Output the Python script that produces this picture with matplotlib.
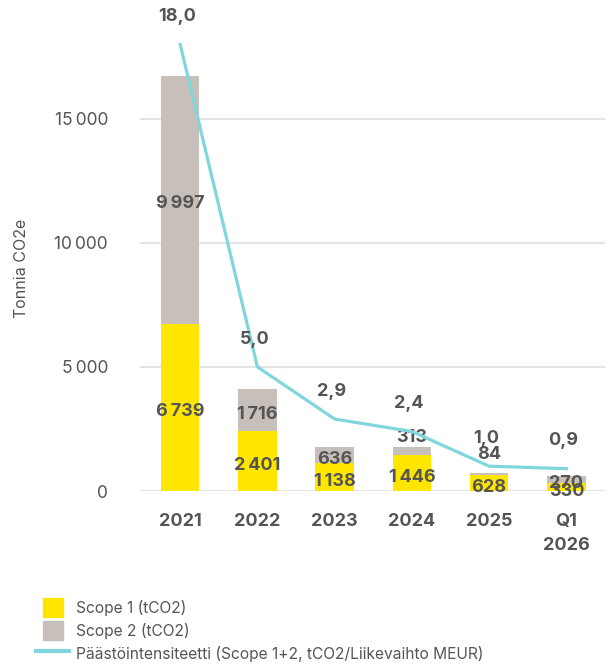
import matplotlib
matplotlib.use("Agg")
import matplotlib.pyplot as plt
from matplotlib.patches import Rectangle
from matplotlib.legend_handler import HandlerPatch
from matplotlib.lines import Line2D

# data
kaudet = ['2021', '2022', '2023', '2024', '2025', 'Q1\n2026']
scope1 = [6739, 2401, 1138, 1446, 628, 330]
scope2 = [9997, 1716, 636, 313, 84, 270]
intensiteetti = [18.0, 5.0, 2.9, 2.4, 1.0, 0.9]
yticks = [0, 5000, 10000, 15000]

plt.rcParams['font.family'] = ['Inter', 'DejaVu Sans']
keltainen = '#FFE600'
harmaa = '#C7C0BA'
turkoosi = '#80D6DC'
teksti = '#555555'

def muoto(v):
    # tuhaterotin välilyönnillä
    return f'{v:,}'.replace(',', '\u2009')

fig = plt.figure(figsize=(6.09, 6.69), dpi=100)
ax = fig.add_axes([140/609, 1-491/669, 465/609, 459/669])

x = list(range(len(kaudet)))
ax.bar(x, scope1, width=0.5, color=keltainen, zorder=2)
ax.bar(x, scope2, width=0.5, bottom=scope1, color=harmaa, zorder=2)

ax.set_xlim(-0.52, 5.5)
ax.set_ylim(0, 18500)
ax.set_yticks(yticks)
ax.set_yticklabels([muoto(v) for v in yticks])
ax.set_xticks(x)
ax.set_xticklabels(kaudet, fontweight='bold', linespacing=1.55)
ax.tick_params(axis='x', length=0, pad=16, labelsize=13, labelcolor=teksti)
ax.tick_params(axis='y', length=0, pad=23, labelsize=12.5, labelcolor=teksti)
ax.grid(axis='y', color='#E3E3E3', linewidth=1.5, zorder=0)
for s in ax.spines.values():
    s.set_visible(False)
fig.text(22/609, 1-268/669, 'Tonnia CO2e', rotation=90, ha='center', va='center',
         fontsize=11.5, color=teksti)

# datalabelit
s2_nosto = [0, 0, 0, 13, 17, 0]
for i in x:
    ax.annotate(muoto(scope1[i]), (i, scope1[i]/2), xytext=(0, -3), textcoords='offset points',
                ha='center', va='center', fontsize=13, fontweight='bold', color=teksti, zorder=5)
    ax.annotate(muoto(scope2[i]), (i, scope1[i] + scope2[i]/2), xytext=(0, -3 + s2_nosto[i]),
                textcoords='offset points', ha='center', va='center', fontsize=13,
                fontweight='bold', color=teksti, zorder=5)

ax2 = ax.twinx()
ax2.set_ylim(0, 18.5)
ax2.axis('off')
ax2.plot(x, intensiteetti, color=turkoosi, linewidth=2.3, zorder=3)
for i in x:
    ax2.annotate(f'{intensiteetti[i]:.1f}'.replace('.', ','), (i, intensiteetti[i]),
                 xytext=(-2, 20), textcoords='offset points', ha='center', va='center',
                 fontsize=13, fontweight='bold', color=teksti)

def kapea(legend, orig_handle, xdescent, ydescent, width, height, fontsize):
    w = width * 0.6
    return Rectangle((-xdescent + (width - w)/2, -ydescent), w, height)

kahvat = [Rectangle((0, 0), 1, 1, color=keltainen), Rectangle((0, 0), 1, 1, color=harmaa),
          Line2D([], [], color=turkoosi, linewidth=3)]
nimet = ['Scope 1 (tCO2)', 'Scope 2 (tCO2)',
         'Päästöintensiteetti (Scope 1+2, tCO2/Liikevaihto MEUR)']
leg = fig.legend(kahvat, nimet, loc='upper left', bbox_to_anchor=(36/609, 1-598/669),
                 frameon=False, fontsize=11.2, handlelength=2.15, handleheight=1.55,
                 handletextpad=0.45, labelspacing=0.22, borderpad=0, borderaxespad=0,
                 handler_map={Rectangle: HandlerPatch(patch_func=kapea)})
for t in leg.get_texts():
    t.set_color(teksti)

fig.savefig('out.png', dpi=100)
